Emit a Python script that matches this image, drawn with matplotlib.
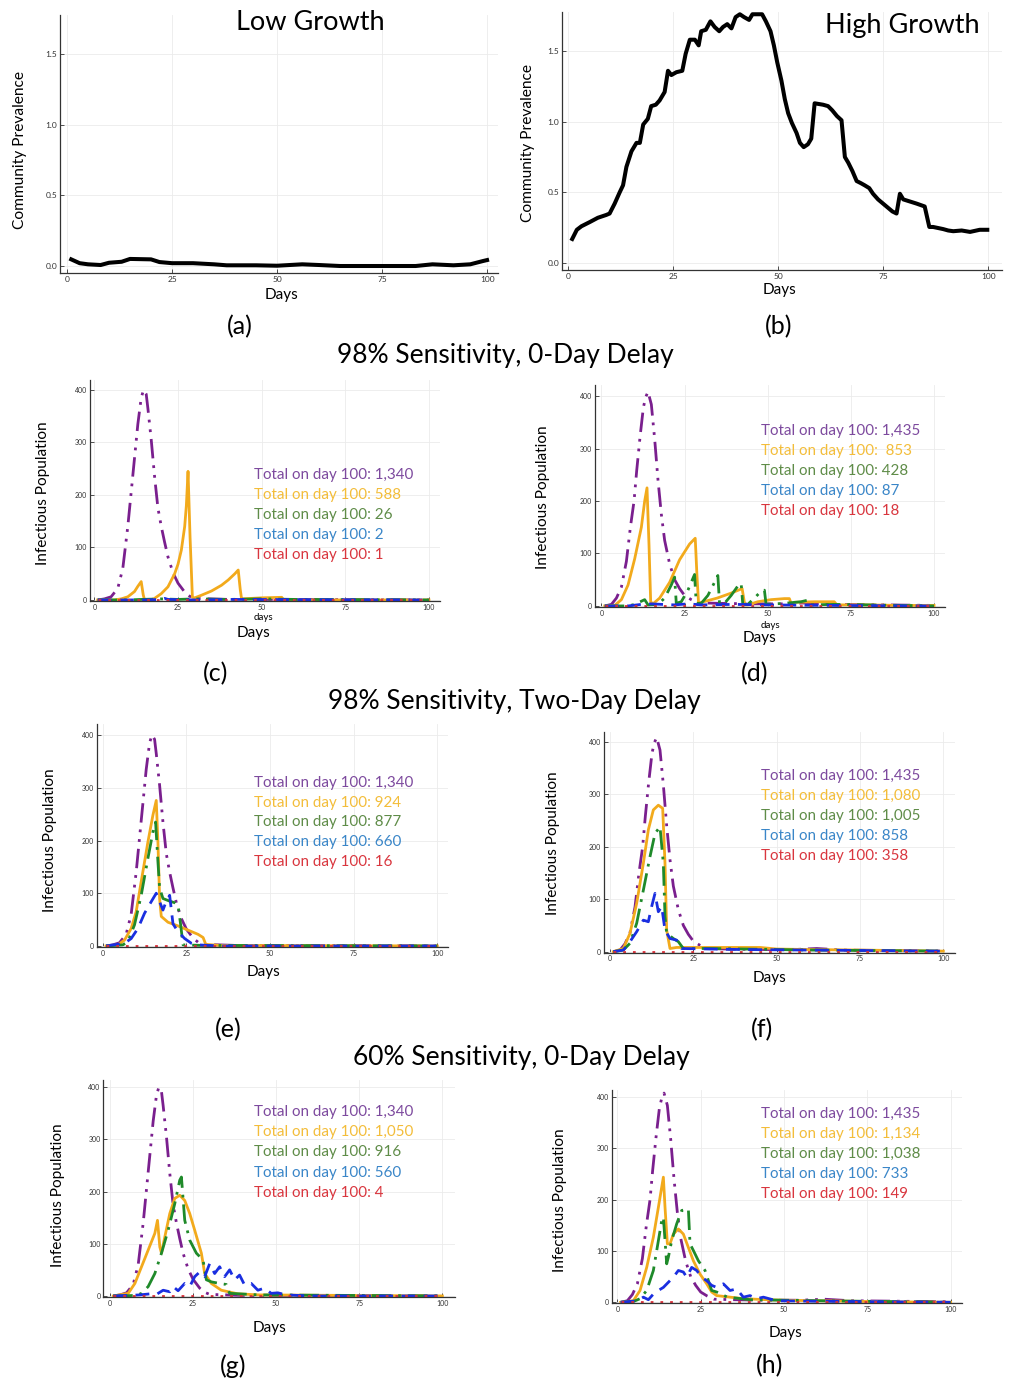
import matplotlib
matplotlib.use("Agg")
import matplotlib.pyplot as plt

W, H = 1009, 1381
plt.rcParams['font.family'] = ["Lato", "DejaVu Sans"]

# ---------------- data (day, value) ----------------
LOW_GROWTH = [(1, 0.047), (3, 0.02), (5, 0.012), (8, 0.007), (10, 0.023), (13, 0.03), (15, 0.05),
              (20, 0.047), (22, 0.028), (25, 0.02), (30, 0.02), (35, 0.012), (38, 0.005), (45, 0.005),
              (50, 0.002), (56, 0.012), (60, 0.007), (65, 0.0), (75, 0.0), (83, 0.0), (87, 0.012),
              (92, 0.005), (96, 0.012), (99, 0.035), (100, 0.042)]

HIGH_GROWTH = [(1.0, 0.17), (2.1, 0.235), (3.2, 0.26), (5.2, 0.29), (7.1, 0.32), (9.1, 0.34), (9.9, 0.35),
               (11.1, 0.42), (12.3, 0.5), (13.1, 0.55), (13.9, 0.68), (15.1, 0.79), (16.3, 0.85), (17.1, 0.85),
               (17.9, 0.98), (19.0, 1.02), (19.8, 1.11), (20.9, 1.12), (21.8, 1.15), (23.0, 1.21), (23.8, 1.36),
               (24.6, 1.33), (25.8, 1.35), (27.2, 1.36), (28.0, 1.48), (29.0, 1.58), (30.2, 1.58), (31.1, 1.54),
               (31.7, 1.64), (32.8, 1.65), (33.9, 1.71), (34.9, 1.67), (36.0, 1.64), (36.9, 1.67), (37.9, 1.69),
               (38.9, 1.66), (39.9, 1.74), (40.9, 1.76), (41.9, 1.74), (43.1, 1.72), (43.9, 1.76), (46.2, 1.76),
               (47.1, 1.71), (48.2, 1.64), (49.0, 1.54), (49.8, 1.42), (50.8, 1.29), (51.6, 1.16), (52.4, 1.06),
               (53.3, 0.99), (54.4, 0.92), (55.2, 0.85), (56.1, 0.82), (57.1, 0.84), (57.9, 0.88), (58.7, 1.13),
               (60.7, 1.12), (61.9, 1.11), (62.9, 1.08), (64.0, 1.04), (65.1, 1.01), (65.9, 0.75), (66.7, 0.71),
               (67.7, 0.65), (68.7, 0.58), (69.7, 0.565), (70.6, 0.55), (71.7, 0.53), (72.6, 0.49), (73.8, 0.45),
               (75.0, 0.42), (76.2, 0.39), (77.2, 0.365), (78.2, 0.35), (79.0, 0.49), (79.8, 0.45), (83.0, 0.42),
               (84.9, 0.40), (86.0, 0.255), (86.9, 0.255), (89.3, 0.24), (90.5, 0.23), (91.7, 0.225), (93.7, 0.23),
               (95.7, 0.22), (98.0, 0.235), (99.8, 0.235)]

# no-testing curves (purple), low / high growth
PURPLE_LOW = [(1, 0), (3, 2), (5, 6), (7, 22), (8.5, 60), (10, 140), (11, 205), (12, 270), (13, 335), (14, 385),
              (14.7, 400), (15.5, 392), (16, 365), (17, 305), (18, 235), (19, 175), (20, 140), (21, 110),
              (22, 82), (23.5, 52), (25, 32), (27, 15), (28.5, 7), (30, 3), (35, 2), (40, 1), (60, 1), (100, 0)]
PURPLE_HIGH = [(1, 0), (3, 3), (4.5, 15), (6, 36), (7.5, 85), (8.7, 150), (9.8, 200), (10.6, 258), (11.6, 322),
               (12.6, 378), (13.3, 398), (14, 408), (15, 384), (16, 318), (17, 240), (18, 175), (19, 125),
               (20.5, 80), (22, 50), (23.5, 33), (25, 20), (27, 12), (29, 6), (35, 5), (45, 4), (55, 4), (62, 6),
               (70, 3), (85, 2), (100, 1)]
RED_FLAT = [(1, 0), (100, 0)]

C_ORANGE = [(1, 0), (6, 0), (8, 2), (10, 6), (12, 16), (13, 26), (14, 35), (14.6, 10), (15, 0), (17, 0), (18, 3),
            (20, 12), (22, 25), (24, 50), (25, 68), (26, 95), (27, 140), (27.5, 180), (28, 245), (28.6, 120),
            (29.3, 5), (30, 4), (32, 9), (35, 17), (38, 28), (40, 38), (42, 50), (43, 57), (43.6, 20), (44, 2),
            (50, 4), (56, 5), (56.5, 1), (60, 0), (100, 0)]
C_GREEN = [(1, 0), (10, 0), (14, 1), (20, 2), (25, 1), (30, 2), (40, 1), (50, 2), (60, 1), (100, 0)]
C_BLUE = [(1, 0), (15, 0), (20, 1), (21, 3), (22, 1), (30, 0), (40, 1), (100, 0)]

D_ORANGE = [(1, 0), (4, 1), (6, 12), (8, 40), (10, 90), (11, 120), (12, 150), (13, 200), (13.7, 225), (14.3, 116),
            (14.8, 8), (15.5, 4), (17.5, 15), (20.5, 45), (23.5, 88), (26.5, 118), (28.2, 129), (28.7, 60),
            (29.2, 5), (30.7, 8), (34.8, 15), (38.8, 24), (42.3, 33), (43.1, 2), (44, 2), (47, 8), (51, 12),
            (55, 14), (56.5, 14), (57.2, 2), (58, 7), (64, 8), (70, 8), (70.8, 2), (80, 2), (90, 1), (100, 1)]
D_GREEN = [(1, 0), (8, 0), (10, 3), (13, 12), (14, 2), (17, 3), (19, 15), (21, 40), (22, 55), (22.5, 5), (24, 8),
           (26, 30), (28, 60), (28.5, 5), (30, 5), (32, 20), (34, 45), (35, 58), (35.5, 5), (37, 5), (39, 20),
           (41, 38), (42, 43), (42.5, 3), (44, 3), (46, 15), (48, 28), (49, 30), (49.5, 3), (55, 5), (60, 8),
           (62, 11), (63, 2), (70, 3), (80, 2), (100, 0)]
D_BLUE = [(1, 0), (8, 0), (12, 3), (15, 4), (18, 3), (22, 2), (26, 4), (30, 2), (40, 3), (50, 2), (70, 1), (100, 0)]

E_ORANGE = [(1, 0), (4.5, 2), (6.5, 11), (8.5, 33), (10, 65), (11.5, 122), (13.5, 197), (15, 248), (16, 276),
            (16.5, 197), (17, 90), (17.5, 56), (19.5, 45), (22.5, 38), (25.5, 30), (28.5, 22), (30, 16),
            (30.8, 3), (35, 1), (100, 0)]
E_GREEN = [(1, 0), (6, 2), (7.5, 8), (9.5, 40), (11.5, 96), (13.5, 166), (15, 216), (15.8, 235), (16.5, 160),
           (17, 110), (18, 90), (20, 85), (21.5, 82), (22.5, 78), (23.3, 40), (24, 2), (30, 1), (100, 0)]
E_BLUE = [(1, 0), (6.5, 5), (8.5, 14), (10.5, 33), (12.5, 62), (14.5, 84), (16, 100), (17, 84), (18, 68),
          (19, 85), (20, 96), (21, 42), (22.5, 27), (24.5, 14), (26.5, 5), (28.5, 2), (35, 0), (100, 0)]

F_ORANGE = [(1, 0), (4, 6), (6, 35), (8, 92), (10, 168), (11.5, 232), (13, 270), (14.5, 279), (15.8, 273),
            (16.5, 168), (17, 41), (18, 6), (20, 8), (30, 8), (40, 8), (45, 8), (50, 5), (60, 4), (75, 3),
            (100, 1)]
F_GREEN = [(1, 0), (4, 3), (6, 16), (8, 54), (10, 117), (12, 181), (13.5, 225), (15, 238), (16, 168),
           (16.5, 67), (17, 35), (19, 25), (20.5, 19), (22, 6), (30, 6), (40, 5), (50, 4), (60, 3), (100, 1)]
F_BLUE = [(1, 0), (4, 3), (6, 19), (8, 38), (10, 60), (11.5, 57), (12.5, 86), (13.5, 111), (14.5, 76),
          (15.5, 86), (16.5, 41), (18, 25), (20, 22), (21.5, 6), (30, 5), (40, 4), (60, 3), (100, 1)]

G_ORANGE = [(1, 0), (5.5, 5), (7.5, 24), (9.5, 56), (11.5, 88), (13.5, 120), (14.3, 145), (15, 94), (15.5, 82),
            (16.5, 113), (18, 158), (19.5, 187), (21, 193), (22.5, 183), (24, 158), (25.5, 126), (27.5, 82),
            (28.5, 43), (30.5, 24), (33.5, 11), (38.5, 4), (45, 2), (100, 0)]
G_GREEN = [(1, 0), (8, 1), (9.5, 5), (11.5, 18), (13.5, 43), (15.5, 82), (17.5, 126), (19.5, 177), (21, 222),
           (21.5, 228), (22.5, 145), (24, 107), (26, 82), (28, 69), (29, 31), (30.5, 27), (33, 24), (35, 22),
           (36, 5), (45, 2), (100, 0)]
G_BLUE = [(1, 0), (9, 2), (12, 4), (14, 3), (16, 11), (18, 8), (19, 18), (20.5, 10), (22.5, 24), (24, 18),
          (25.5, 37), (27, 46), (28.5, 37), (30, 62), (31.5, 43), (33, 56), (34.5, 37), (36, 50), (37.5, 31),
          (39, 40), (40.5, 21), (42.5, 24), (44.5, 11), (46.5, 15), (48.5, 5), (50.5, 6), (53, 2), (60, 0),
          (100, 0)]

H_ORANGE = [(1, 0), (4.8, 3), (6.8, 23), (8.8, 68), (10.8, 127), (12.3, 185), (13.8, 244), (14.3, 185),
            (15, 114), (15.8, 114), (16.8, 133), (18.3, 143), (19.8, 133), (21.3, 107), (22.8, 81), (24.8, 55),
            (26.8, 36), (28.3, 20), (29.8, 13), (33.8, 10), (37.8, 7), (45, 5), (50, 4), (60, 3), (80, 1),
            (100, 0)]
H_GREEN = [(1, 0), (5, 2), (6.8, 7), (8.8, 23), (10.8, 62), (12.3, 120), (13.3, 159), (13.8, 166), (14.8, 75),
           (15.3, 88), (16.3, 120), (17.8, 153), (19.3, 179), (21.3, 182), (21.8, 114), (22.8, 101), (24.3, 81),
           (26.3, 62), (28.3, 23), (29.8, 20), (33, 10), (40, 5), (60, 3), (100, 0)]
H_BLUE = [(1, 0), (6, 3), (7.8, 10), (9.3, 5), (10.8, 16), (12.3, 23), (13.8, 29), (15.3, 39), (16.8, 49),
          (18.3, 62), (19.8, 59), (20.8, 49), (22.3, 68), (23.8, 62), (25.3, 49), (26.8, 42), (28.3, 33),
          (29.8, 29), (31.8, 36), (33.8, 23), (35.8, 26), (37.8, 10), (39.8, 13), (41.8, 7), (43.8, 10),
          (47.8, 3), (60, 2), (100, 0)]

TOTALS = {
    'c': ["1,340", "588", "26", "2", "1"],
    'd': ["1,435", " 853", "428", "87", "18"],
    'e': ["1,340", "924", "877", "660", "16"],
    'f': ["1,435", "1,080", "1,005", "858", "358"],
    'g': ["1,340", "1,050", "916", "560", "4"],
    'h': ["1,435", "1,134", "1,038", "733", "149"],
}
SERIES = {
    'c': [PURPLE_LOW, C_ORANGE, C_GREEN, C_BLUE, RED_FLAT],
    'd': [PURPLE_HIGH, D_ORANGE, D_GREEN, D_BLUE, RED_FLAT],
    'e': [PURPLE_LOW, E_ORANGE, E_GREEN, E_BLUE, RED_FLAT],
    'f': [PURPLE_HIGH, F_ORANGE, F_GREEN, F_BLUE, RED_FLAT],
    'g': [PURPLE_LOW, G_ORANGE, G_GREEN, G_BLUE, RED_FLAT],
    'h': [PURPLE_HIGH, H_ORANGE, H_GREEN, H_BLUE, RED_FLAT],
}

# ---------------- styles ----------------
LINE_COLORS = ["#7a1f8e", "#f2aa1c", "#1f8a2a", "#1a2ee0", "#d9303a"]
LINE_STYLES = [(0, (7, 2.5, 1, 2.5, 1, 2.5)), '-', (0, (7, 2.5, 1, 2.5)), (0, (5, 3)), (0, (1, 2.5))]
TEXT_COLORS = ["#7d4a9e", "#f3bd3a", "#5f8c48", "#3a86c8", "#d9363e"]

fig = plt.figure(figsize=(W / 100, H / 100), dpi=100)


def fx(x):
    return x / W


def fy(y):
    return 1 - y / H


def add_ax(l, t, r, b):
    return fig.add_axes([l / W, 1 - b / H, (r - l) / W, (b - t) / H])


def style(ax, labelsize=5):
    for s in ('top', 'right'):
        ax.spines[s].set_visible(False)
    for s in ('left', 'bottom'):
        ax.spines[s].set_linewidth(0.9)
        ax.spines[s].set_color('#333333')
    ax.tick_params(direction='in', length=3, width=0.6, labelsize=labelsize, pad=2, colors='#333333')
    ax.grid(True, color='#ebebeb', lw=0.6)
    ax.set_axisbelow(True)


def xy(pts):
    return [p[0] for p in pts], [p[1] for p in pts]


# ---- (a) & (b) ----
for key, box, xl, pts, title, tpos in [
        ('a', (60, 15, 498, 273), (-1.67, 102.6), LOW_GROWTH, "Low Growth", (310, 22)),
        ('b', (562, 12, 1002, 270), (-1.43, 103.3), HIGH_GROWTH, "High Growth", (902, 25))]:
    ax = add_ax(*box)
    style(ax, labelsize=6)
    x, y = xy(pts)
    ax.plot(x, y, color='black', lw=2.9, solid_joinstyle='round')
    ax.set_xlim(*xl)
    ax.set_ylim(-0.0495, 1.776)
    ax.set_xticks([0, 25, 50, 75, 100])
    ax.set_yticks([0.0, 0.5, 1.0, 1.5])
    ax.set_yticklabels(["0.0", "0.5", "1.0", "1.5"])
    fig.text(fx(tpos[0]), fy(tpos[1]), title, ha='center', va='center', fontsize=19.5)

fig.text(fx(20), fy(150), "Community Prevalence", rotation=90, ha='center', va='center', fontsize=11.2)
fig.text(fx(528), fy(143), "Community Prevalence", rotation=90, ha='center', va='center', fontsize=11.2)
fig.text(fx(281), fy(295), "Days", ha='center', va='center', fontsize=11)
fig.text(fx(779), fy(290), "Days", ha='center', va='center', fontsize=11)

# ---- (c)-(h) ----
PANELS = {
    'c': dict(box=(90, 380, 440, 601), xl=(-1.3, 103.3), yl=(-2, 419), yl_x=43, yl_y=493,
              days=(254, 633), small=(263, 618), txt=(254, 475, 20)),
    'd': dict(box=(595, 385, 945, 607), xl=(-1.94, 103.3), yl=(-2, 421), yl_x=543, yl_y=497,
              days=(760, 638), small=(770, 625), txt=(761, 431, 20)),
    'e': dict(box=(96.7, 724, 448, 947), xl=(-1.8, 103.2), yl=(-2, 421), yl_x=50, yl_y=840,
              days=(263, 972), small=None, txt=(254, 783, 19.7)),
    'f': dict(box=(604, 731.7, 955, 952.7), xl=(-1.8, 103.5), yl=(-2, 419), yl_x=553, yl_y=843,
              days=(770, 978), small=None, txt=(761, 776, 20)),
    'g': dict(box=(103.3, 1080, 455, 1297), xl=(-2, 103.8), yl=(-2, 414), yl_x=58, yl_y=1195,
              days=(270, 1328), small=None, txt=(254, 1112, 20.2)),
    'h': dict(box=(611.7, 1090, 962, 1303.3), xl=(-1.7, 103.4), yl=(-2, 414), yl_x=560, yl_y=1200,
              days=(785, 1333), small=None, txt=(761, 1114, 20)),
}

for key, p in PANELS.items():
    ax = add_ax(*p['box'])
    style(ax, labelsize=5)
    for pts, c, ls in zip(SERIES[key], LINE_COLORS, LINE_STYLES):
        x, y = xy(pts)
        ax.plot(x, y, color=c, ls=ls, lw=2.0)
    ax.set_xlim(*p['xl'])
    ax.set_ylim(*p['yl'])
    ax.set_xticks([0, 25, 50, 75, 100])
    ax.set_yticks([0, 100, 200, 300, 400])
    fig.text(fx(p['yl_x']), fy(p['yl_y']), "Infectious Population", rotation=90,
             ha='center', va='center', fontsize=11.1)
    fig.text(fx(p['days'][0]), fy(p['days'][1]), "Days", ha='center', va='center', fontsize=11)
    if p['small']:
        fig.text(fx(p['small'][0]), fy(p['small'][1]), "days", ha='center', va='center', fontsize=7)
    tx, ty, dy = p['txt']
    for i, (val, col) in enumerate(zip(TOTALS[key], TEXT_COLORS)):
        fig.text(fx(tx), fy(ty + i * dy), "Total on day 100: " + val, color=col,
                 ha='left', va='center', fontsize=10.9)

# ---- panel letters and section titles ----
for s, x, y in [("(a)", 240, 327), ("(b)", 779, 327), ("(c)", 216, 674), ("(d)", 755, 674),
                ("(e)", 228, 1030), ("(f)", 762, 1030), ("(g)", 233, 1366), ("(h)", 770, 1366)]:
    fig.text(fx(x), fy(y), s, ha='center', va='center', fontsize=18)
for s, x, y in [("98% Sensitivity, 0-Day Delay", 505, 356),
                ("98% Sensitivity, Two-Day Delay", 514, 701),
                ("60% Sensitivity, 0-Day Delay", 521, 1057)]:
    fig.text(fx(x), fy(y), s, ha='center', va='center', fontsize=19)

fig.savefig("out.png", dpi=100)
